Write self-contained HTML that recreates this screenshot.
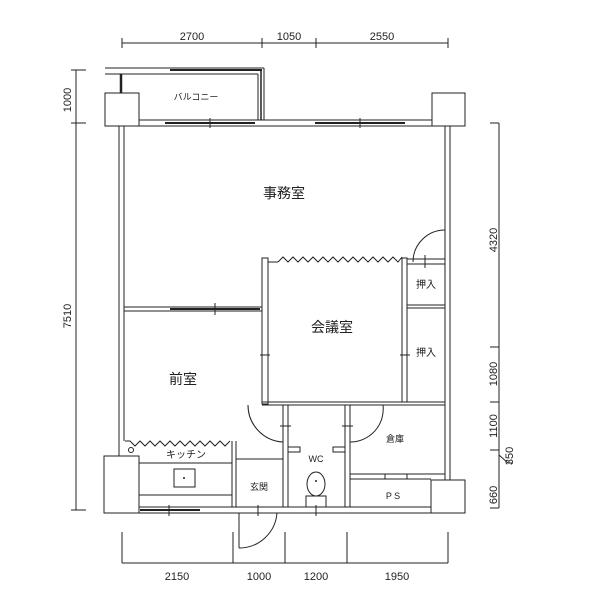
<!DOCTYPE html>
<html><head><meta charset="utf-8"><style>
body{margin:0;background:#fff}
svg{display:block}
text{font-family:"Liberation Sans","Noto Sans CJK JP",sans-serif;fill:#222}
</style></head><body>
<svg width="600" height="600" viewBox="0 0 600 600" xmlns="http://www.w3.org/2000/svg">
<g stroke="#222" stroke-width="1" fill="none">
<!-- top dims -->
<line x1="122" y1="43" x2="448" y2="43"/>
<line x1="122" y1="38" x2="122" y2="48"/><line x1="262" y1="38" x2="262" y2="48"/><line x1="316" y1="38" x2="316" y2="48"/><line x1="448" y1="38" x2="448" y2="48"/>
<!-- left dims -->
<line x1="76" y1="70" x2="76" y2="510"/>
<line x1="71" y1="70" x2="86" y2="70"/><line x1="71" y1="123" x2="86" y2="123"/><line x1="71" y1="510" x2="86" y2="510"/>
<!-- right dims -->
<line x1="499" y1="123" x2="499" y2="508"/>
<line x1="490" y1="123" x2="499" y2="123"/><line x1="490" y1="347" x2="499" y2="347"/><line x1="490" y1="402" x2="499" y2="402"/><line x1="490" y1="450" x2="499" y2="450"/><line x1="490" y1="508" x2="499" y2="508"/>
<polyline points="499,455 508,463 512,463"/>
<!-- bottom dims -->
<line x1="122" y1="563" x2="448" y2="563"/>
<line x1="122" y1="532" x2="122" y2="563"/><line x1="233" y1="532" x2="233" y2="563"/><line x1="285" y1="532" x2="285" y2="563"/><line x1="347" y1="532" x2="347" y2="563"/><line x1="448" y1="532" x2="448" y2="563"/>

<!-- balcony -->
<line x1="105" y1="68" x2="264" y2="68"/><line x1="105" y1="74" x2="258" y2="74"/>
<line x1="170" y1="70" x2="262" y2="70" stroke-width="2"/>
<line x1="258" y1="74" x2="258" y2="120"/><line x1="264" y1="68" x2="264" y2="120"/>
<line x1="261" y1="71" x2="261" y2="120" stroke-width="1.5"/>
<line x1="121" y1="74" x2="121" y2="93" stroke-width="2.5"/>
<rect x="105" y="93" width="34" height="33"/>
<rect x="432" y="93" width="33" height="33"/>
<!-- top wall with windows -->
<line x1="139" y1="120" x2="432" y2="120"/><line x1="139" y1="126" x2="432" y2="126"/>
<line x1="165" y1="123" x2="255" y2="123" stroke-width="2"/><line x1="315" y1="123" x2="405" y2="123" stroke-width="2"/>
<line x1="210" y1="118" x2="210" y2="128"/><line x1="360" y1="118" x2="360" y2="128"/>
<!-- outer walls -->
<line x1="119" y1="126" x2="119" y2="456"/><line x1="124" y1="126" x2="124" y2="441"/>
<line x1="445" y1="126" x2="445" y2="480"/><line x1="450" y1="126" x2="450" y2="480"/>
<!-- office door -->
<path d="M413 262 A32 32 0 0 1 445 230" /><line x1="445" y1="230" x2="445" y2="262"/>
<rect x="407" y="259" width="38" height="5"/><line x1="425" y1="255" x2="425" y2="268"/>
<!-- conference room -->
<rect x="262" y="258" width="6" height="146"/>
<rect x="402" y="258" width="5" height="144"/>
<polyline points="278,262 283,257 288,262 293,257 298,262 303,257 308,262 313,257 318,262 323,257 328,262 333,257 338,262 343,257 348,262 353,257 358,262 363,257 368,262 373,257 378,262 383,257 388,262 393,257 398,262 402,257"/>
<line x1="268" y1="262" x2="278" y2="262"/>
<line x1="262" y1="402" x2="445" y2="402"/><line x1="262" y1="405" x2="445" y2="405"/>
<line x1="407" y1="305" x2="445" y2="305"/><line x1="407" y1="308" x2="445" y2="308"/>
<line x1="260" y1="355" x2="270" y2="355"/><line x1="400" y1="355" x2="410" y2="355"/>
<!-- zenshitsu top -->
<line x1="124" y1="307" x2="262" y2="307"/><line x1="124" y1="311" x2="262" y2="311"/>
<line x1="170" y1="309" x2="260" y2="309" stroke-width="2"/><line x1="215" y1="303" x2="215" y2="315"/>
<!-- zenshitsu door -->
<path d="M248 405 A37 37 0 0 0 283 442"/>
<!-- WC walls -->
<rect x="283" y="405" width="5" height="102"/>
<rect x="345" y="405" width="5" height="102"/>
<line x1="280" y1="426" x2="291" y2="426"/><line x1="342" y1="426" x2="353" y2="426"/>
<polyline points="288,447 300,447 300,452 288,452"/><polyline points="345,447 333,447 333,452 345,452"/>
<!-- soko door -->
<path d="M383 405 A33 33 0 0 1 350 442"/>
<!-- PS -->
<line x1="350" y1="474" x2="445" y2="474"/><line x1="350" y1="479" x2="431" y2="479"/>
<rect x="385" y="474" width="22" height="5"/>
<!-- kitchen -->
<polyline points="125,441 130,441 135,446 140,441 145,446 150,441 155,446 160,441 165,446 170,441 175,446 180,441 185,446 190,441 195,446 200,441 205,446 210,441 215,446 220,441 225,446 230,441"/>
<circle cx="131" cy="450" r="2.5"/>
<line x1="232" y1="441" x2="232" y2="507"/><line x1="236" y1="441" x2="236" y2="507"/>
<line x1="139" y1="463" x2="232" y2="463"/><line x1="139" y1="495" x2="232" y2="495"/>
<rect x="174" y="469" width="21" height="18"/>
<rect x="104" y="456" width="35" height="57"/>
<line x1="236" y1="459" x2="283" y2="459"/>
<!-- bottom wall -->
<line x1="139" y1="507" x2="431" y2="507"/><line x1="139" y1="513" x2="431" y2="513"/>
<line x1="140" y1="510" x2="200" y2="510" stroke-width="2"/><line x1="169" y1="505" x2="169" y2="516"/>
<rect x="431" y="480" width="34" height="33"/>
<!-- entrance door -->
<line x1="239" y1="513" x2="239" y2="548"/><path d="M239 548 A38 38 0 0 0 277 513"/>
<line x1="258" y1="505" x2="258" y2="516"/>
<line x1="316" y1="505" x2="316" y2="516"/>
<!-- toilet -->
<ellipse cx="316" cy="484" rx="9" ry="12"/>
<rect x="306" y="496" width="20" height="11"/>
</g>
<circle cx="184" cy="478" r="1" fill="#222"/><circle cx="316" cy="481" r="1" fill="#222"/>
<g font-size="11" text-anchor="middle">
<text x="192" y="40">2700</text><text x="289" y="40">1050</text><text x="382" y="40">2550</text>
<text x="177" y="580">2150</text><text x="259" y="580">1000</text><text x="316" y="580">1200</text><text x="397" y="580">1950</text>
<text transform="translate(71,100) rotate(-90)">1000</text>
<text transform="translate(71,316) rotate(-90)">7510</text>
<text transform="translate(497,240) rotate(-90)">4320</text>
<text transform="translate(497,374) rotate(-90)">1080</text>
<text transform="translate(497,426) rotate(-90)">1100</text>
<text transform="translate(513,456) rotate(-90)">350</text>
<text transform="translate(497,495) rotate(-90)">660</text>
</g>
<g text-anchor="middle">
<text x="284" y="198" font-size="14">事務室</text>
<text x="332" y="332" font-size="14">会議室</text>
<text x="183" y="384" font-size="14">前室</text>
<text x="426" y="288" font-size="10">押入</text>
<text x="426" y="356" font-size="10">押入</text>
<text x="186" y="458" font-size="10">キッチン</text>
<text x="259" y="490" font-size="9">玄関</text>
<text x="316" y="462" font-size="9">WC</text>
<text x="395" y="442" font-size="9">倉庫</text>
<text x="393" y="499" font-size="9">P S</text>
<text x="196" y="100" font-size="9">バルコニー</text>
</g>
</svg>
</body></html>
